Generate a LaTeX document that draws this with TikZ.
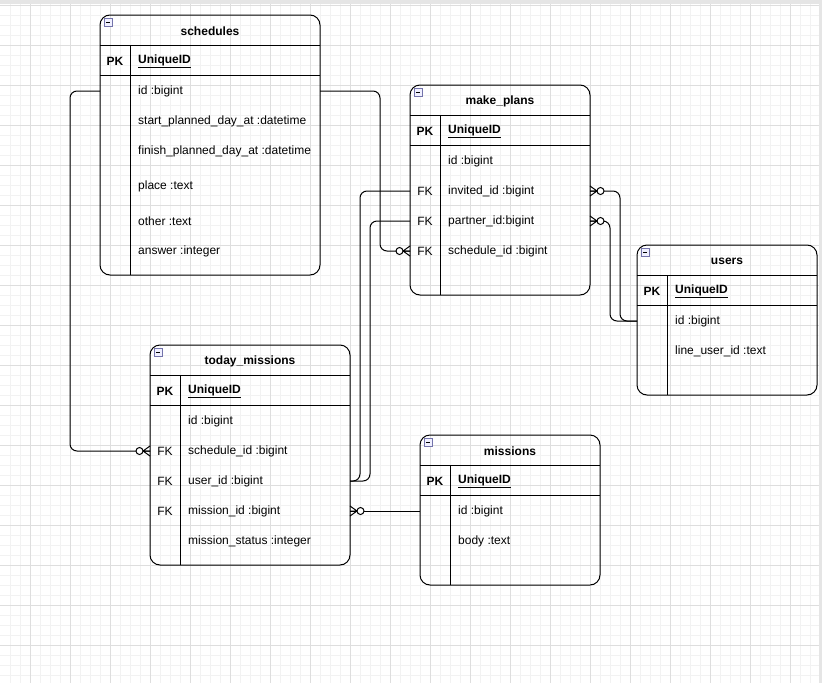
\documentclass[tikz,border=0pt]{standalone}
\usepackage{fontspec}
\setmainfont{Liberation Sans}
\usetikzlibrary{calc}

\newcommand{\txt}{\fontsize{12pt}{14pt}\selectfont}

\tikzset{
  tbl/.style={draw, line width=1pt, rounded corners=10pt, anchor=north west, inner sep=0pt, outer sep=0pt},
  tblline/.style={line width=1pt},
  tbltitle/.style={font=\txt\bfseries, yshift=-1pt},
  pk/.style={font=\txt\bfseries, yshift=-1pt},
  pkname/.style={anchor=west, inner sep=0pt, font=\txt\bfseries, yshift=-1pt},
  field/.style={anchor=west, inner sep=0pt, font=\txt, yshift=-1pt},
  fk/.style={font=\txt, yshift=-1pt},
  conn/.style={line width=1pt, rounded corners=7pt},
  minorgrid/.style={draw=black!5, line width=0.7pt},
  majorgrid/.style={draw=black!13, line width=0.7pt},
  zeromany/.pic={
    \draw[line width=1pt] (0,-5) -- (7,0) -- (0,5) (0,0) -- (7,0);
    \draw[line width=1pt, fill=white] (10.5,0) circle[radius=3.5pt];
  }
}

% name, left, top, width, height, title
\newcommand{\ertable}[6]{%
  \node[tbl, minimum width=#4pt, minimum height=#5pt] (#1) at (#2,#3) {};
  \node[tbltitle] at ($(#1.north)+(0,15)$) {#6};
  \draw[draw=blue!40!black!55, fill=blue!6, line width=0.6pt] ($(#1.north west)+(4,3)$) rectangle +(8,8);
  \draw[line width=0.8pt] ($(#1.north west)+(5.8,7)$) -- +(4.4,0);
  \draw[tblline] ($(#1.north west)+(0,30)$) -- ($(#1.north east)+(0,30)$)
    ($(#1.north west)+(0,60)$) -- ($(#1.north east)+(0,60)$)
    ($(#1.north west)+(30,30)$) -- ($(#1.south west)+(30,0)$);
  \node[pk] at ($(#1.north west)+(15,45)$) {PK};
  \node[pkname] at ($(#1.north west)+(38,45)$) {\underline{UniqueID}};
}

\begin{document}
\begin{tikzpicture}[x=1pt, y=-1pt]
\useasboundingbox (0,0) rectangle (822,683);
\fill[white] (0,0) rectangle (822,683);

% grid
\foreach \x in {10,20,...,820} \draw[minorgrid] (\x,0) -- (\x,683);
\foreach \y in {15,25,...,675} \draw[minorgrid] (0,\y) -- (822,\y);
\foreach \x in {30,70,...,790} \draw[majorgrid] (\x,0) -- (\x,683);
\foreach \y in {5,45,...,645} \draw[majorgrid] (0,\y) -- (822,\y);
\fill[black!10] (0,0) rectangle (822,4);
\fill[black!10] (819,0) rectangle (822,683);

% tables
\ertable{schedules}{100}{15}{220}{260}{schedules}
\node[field] (sch-id) at (138,90) {id :bigint};
\node[field] (sch-start) at (138,120) {start\_planned\_day\_at :datetime};
\node[field] (sch-finish) at (138,150) {finish\_planned\_day\_at :datetime};
\node[field] (sch-place) at (138,185) {place :text};
\node[field] (sch-other) at (138,220) {other :text};
\node[field] (sch-answer) at (138,250) {answer :integer};

\ertable{mp}{410}{85}{180}{210}{make\_plans}
\node[field] (mp-id) at (448,160) {id :bigint};
\node[field] (mp-inv) at (448,190) {invited\_id :bigint};
\node[field] (mp-part) at (448,220) {partner\_id:bigint};
\node[field] (mp-sched) at (448,250) {schedule\_id :bigint};
\node[fk] at (425,190) {FK};
\node[fk] at (425,220) {FK};
\node[fk] at (425,250) {FK};

\ertable{users}{637}{245}{180}{150}{users}
\node[field] (us-id) at (675,320) {id :bigint};
\node[field] (us-line) at (675,350) {line\_user\_id :text};

\ertable{tm}{150}{345}{200}{220}{today\_missions}
\node[field] (tm-id) at (188,420) {id :bigint};
\node[field] (tm-sched) at (188,450) {schedule\_id :bigint};
\node[field] (tm-user) at (188,480) {user\_id :bigint};
\node[field] (tm-mis) at (188,510) {mission\_id :bigint};
\node[field] (tm-status) at (188,540) {mission\_status :integer};
\node[fk] at (165,450) {FK};
\node[fk] at (165,480) {FK};
\node[fk] at (165,510) {FK};

\ertable{missions}{420}{435}{180}{150}{missions}
\node[field] (ms-id) at (458,510) {id :bigint};
\node[field] (ms-body) at (458,540) {body :text};

% relations
\draw[conn] (schedules.west |- sch-id) -- ++(-30,0) |- (tm.west |- tm-sched);
\pic[rotate=180] at (tm.west |- tm-sched) {zeromany};
\draw[conn] (schedules.east |- sch-id) -- ++(60,0) |- (mp.west |- mp-sched);
\pic[rotate=180] at (mp.west |- mp-sched) {zeromany};
\draw[conn] (mp.west |- mp-inv) -- ++(-50,0) |- (tm.east |- tm-user);
\draw[conn] (mp.west |- mp-part) -- ++(-40,0) |- (tm.east |- tm-user);
\draw[conn] (mp.east |- mp-inv) -- ++(30,0) |- (users.west |- us-id);
\pic at (mp.east |- mp-inv) {zeromany};
\draw[conn] (mp.east |- mp-part) -- ++(20,0) |- (users.west |- us-id);
\pic at (mp.east |- mp-part) {zeromany};
\draw[conn] (tm.east |- tm-mis) -- (missions.west |- ms-id);
\pic at (tm.east |- tm-mis) {zeromany};
\end{tikzpicture}
\end{document}
